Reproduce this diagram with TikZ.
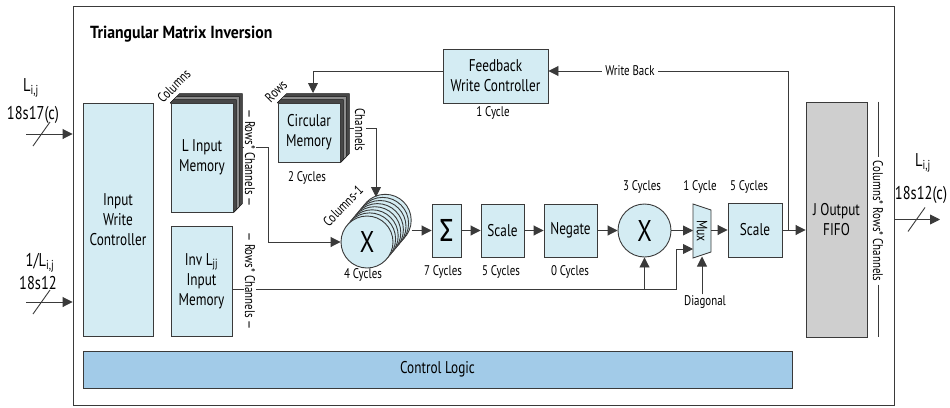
\documentclass[tikz,border=0pt]{standalone}
\usepackage{fontspec}
\setmainfont[FakeStretch=0.78]{PT Sans}
\newfontfamily\titlefont[FakeStretch=0.9]{PT Sans}
\newfontfamily\grkfont[FakeStretch=0.85]{Fira Sans}
\usetikzlibrary{arrows.meta,calc,backgrounds}

\definecolor{boxblue}{HTML}{D4ECF3}
\definecolor{ctrlblue}{HTML}{A2CBE8}
\definecolor{fifogray}{HTML}{CFCFCF}
\definecolor{linegray}{HTML}{3A3A3A}

\newcommand\blkfont{\fontsize{17}{20}\selectfont}
\newcommand\cycfont{\fontsize{14}{16}\selectfont}

\tikzset{
	blk/.style={draw=linegray, fill=boxblue, line width=0.9pt, align=center, font=\blkfont, inner sep=0pt},
	circ/.style={blk, circle, minimum size=52pt},
	cyc/.style={font=\cycfont, inner sep=1pt},
	io/.style={font=\fontsize{18.5}{20}\selectfont, inner sep=1pt},
	tag/.style={cyc, fill=white, rotate=-90, inner sep=0.5pt},
	wire/.style={draw=linegray, line width=0.9pt},
	arr/.style={wire, -{Triangle[length=10pt,width=10pt]}},
	slab/.style={draw=black!90, line width=0.5pt},
}

\begin{document}
\begin{tikzpicture}[x=1pt,y=-1pt]
	\useasboundingbox (0,0) rectangle (950,407);
	
	% frame and title
	\node[draw=linegray, line width=0.9pt, minimum width=821pt, minimum height=399pt, inner sep=0pt] (frame) at (483.5,205.5) {};
	\node[anchor=west, inner sep=0pt, font=\titlefont\bfseries\fontsize{17.5}{19}\selectfont] (title) at (90,34) {Triangular Matrix Inversion};
	
	% blocks
	\node[blk, minimum width=70pt, minimum height=233pt] (iwc) at (118,219.5) {Input\\Write\\Controller};
	\node[blk, minimum width=62pt, minimum height=109pt] (lmem) at (202,157.5) {L Input\\Memory};
	\node[blk, minimum width=61pt, minimum height=110pt] (imem) at (201.5,281) {Inv L\textsubscript{jj}\\Input\\Memory};
	\node[blk, minimum width=62pt, minimum height=59pt] (cmem) at (309,132.5) {Circular\\Memory};
	\node[blk, minimum width=105pt, minimum height=54pt] (fb) at (495.5,76) {Feedback\\Write Controller};
	\node[blk, minimum width=29pt, minimum height=53pt, font=\grkfont\fontsize{32}{32}\selectfont] (sig) at (446.5,230.5) {Σ};
	\node[blk, minimum width=43pt, minimum height=53pt] (sc1) at (502.5,230.5) {Scale};
	\node[blk, minimum width=53pt, minimum height=53pt] (neg) at (570.5,230.5) {Negate};
	\node[circ, minimum size=53pt, font=\fontsize{30}{30}\selectfont] (x2) at (644.5,230.5) {X};
	\node[blk, minimum width=54pt, minimum height=54pt] (sc2) at (755,230) {Scale};
	\node[blk, fill=fifogray, minimum width=61pt, minimum height=235pt] (fifo) at (836.5,219.5) {J Output\\FIFO};
	\node[blk, fill=ctrlblue, minimum width=709pt, minimum height=37pt] (ctrl) at (437.5,369.5) {Control Logic};
	
	% memory stacks
	\begin{scope}[on background layer]
		\foreach \m in {lmem,cmem}
		\foreach \d/\c in {9/black!72,6/black!45,3/black!72}
		\draw[slab, fill=\c] (\m.north west) -- ($(\m.north west)+(\d,-\d)$) -- ($(\m.north east)+(\d,-\d)$) -- ($(\m.south east)+(\d,-\d)$) -- (\m.south east) -- cycle;
	\end{scope}
	
	% multiplier stack
	\foreach \k in {7,...,1}
	\node[circ] (xs\k) at ($(367,242)+(\k*2.6,-\k*3.1)$) {};
	\node[circ, font=\fontsize{30}{30}\selectfont] (xs) at (367,242) {X};
	
	% mux
	\draw[wire, fill=boxblue] (693,204) -- (711,210) -- (711,252) -- (693,258) -- cycle;
	\node[font=\fontsize{15}{16}\selectfont, inner sep=0pt, rotate=-90] (mux) at (702,231) {Mux};
	\coordinate (muxa) at (693,230.5);
	\coordinate (muxb) at (693,249);
	\coordinate (muxd) at (702,256.5);
	\coordinate (muxo) at (711,230);
	
	% slanted labels
	\node[cyc, rotate=45] (colsl) at (174,86) {Columns};
	\node[cyc, rotate=45] (rowsl) at (276,91) {Rows};
	\node[cyc, rotate=45] (colml) at (343,206) {Columns-1};
	
	% latencies
	\node[cyc] (cy2) at (307,178) {2 Cycles};
	\node[cyc] (cy1) at (493,113) {1 Cycle};
	\node[cyc] (cy4) at (363,275) {4 Cycles};
	\node[cyc] (cy7) at (443,272) {7 Cycles};
	\node[cyc] (cy5) at (501,272) {5 Cycles};
	\node[cyc] (cy0) at (570,272) {0 Cycles};
	\node[cyc] (cy3) at (642,187) {3 Cycles};
	\node[cyc] (cy1b) at (700,187) {1 Cycle};
	\node[cyc] (cy5b) at (749,187) {5 Cycles};
	
	% wires
	\coordinate (lout) at (242,147);
	\coordinate (ljog) at (268,147);
	\draw[arr] (lout) -- (ljog) |- (xs.west);
	\coordinate (cout) at (349,128);
	\coordinate (xin) at (376,197);
	\draw[arr] (cout) -| (xin);
	\coordinate (cin) at (313,93);
	\draw[arr] ([yshift=5pt]fb.west) -| (cin);
	\coordinate (wb) at (788,230);
	\draw[arr] (wb) |- ([yshift=5pt]fb.east) node[cyc, fill=white, pos=0.83, inner sep=3pt] (wbl) {Write Back};
	
	\draw[arr] (xs7.east |- sig.west) -- (sig.west);
	\draw[arr] (sig) -- (sc1);
	\draw[arr] (sc1) -- (neg);
	\draw[arr] (neg) -- (x2);
	\draw[arr] (x2.east) -- (muxa);
	\draw[arr] (muxo) -- (sc2.west);
	\draw[arr] (sc2.east) -- (sc2.east -| fifo.west);
	
	\coordinate (iw) at ($(imem.east)+(0,8)$);
	\coordinate (mjog) at (676,249);
	\draw[arr] (iw) -| (mjog) -- (muxb);
	\draw[arr] (iw -| x2.south) -- (x2.south);
	\node[cyc] (diag) at (705,302) {Diagonal};
	\draw[arr] (diag.north -| muxd) -- (muxd);
	
	% bus tags
	\node[tag] (ltag) at (250,158) {— Rows* Channels —};
	\node[tag] (itag) at (250,281) {— Rows* Channels —};
	\node[tag] (ctag) at (360,130) {Channels};
	\node[tag, inner sep=3pt] (ftag) at (878,221) {Columns* Rows* Channels};
	\draw[wire, line width=0.6pt] (ftag.west |- fifo.north) -- (ftag.west);
	\draw[wire, line width=0.6pt] (ftag.east) -- (ftag.east |- fifo.south);
	
	% inputs and output
	\coordinate (inA) at (26,134);
	\coordinate (inB) at (26,302);
	\coordinate (outE) at (940,219.5);
	\draw[arr] (inA) -- (inA -| frame.west);
	\draw[arr] (inB) -- (inB -| frame.west);
	\draw[arr] (outE -| frame.east) -- (outE);
	\foreach \p in {inA,inB}
	\draw[wire] ($(\p)+(7,12)$) -- ++(17,-24);
	\draw[wire] ($(outE)+(-32,12)$) -- ++(17,-24);
	\node[io] (la) at (31,88) {L\textsubscript{i,j}};
	\node[io] (lb) at (33,115) {18s17(c)};
	\node[io] (lc) at (40,263) {1/L\textsubscript{i,j}};
	\node[io] (ld) at (38,283) {18s12};
	\node[io] (le) at (923,163) {L\textsubscript{i,j}};
	\node[io] (lf) at (921,195) {18s12(c)};
	
\end{tikzpicture}
\end{document}
